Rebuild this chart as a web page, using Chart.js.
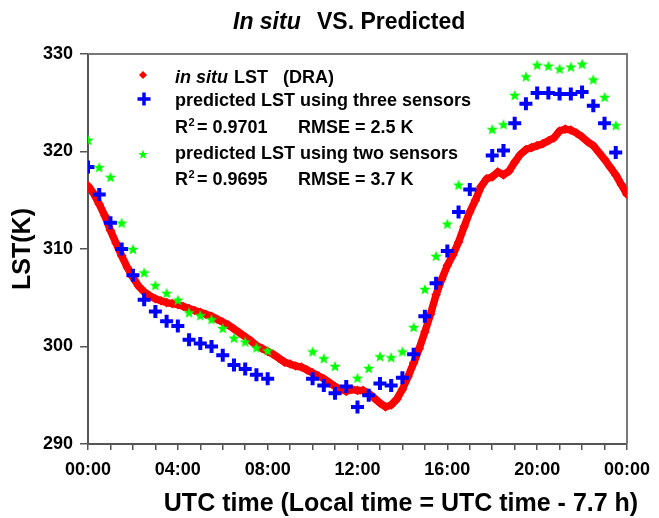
<!DOCTYPE html>
<html>
<head>
<meta charset="utf-8">
<script src="https://cdn.jsdelivr.net/npm/chart.js@4.4.0/dist/chart.umd.min.js"></script>
<style>
  html, body { margin: 0; padding: 0; background: #fff; }
  canvas { display: block; }
</style>
</head>
<body>
<canvas id="lstChart" width="659" height="518"></canvas>
<script>
// in situ LST at DRA, one reading every 15 min from 00:00 to 24:00 UTC
var insituStep = 0.25;
var insituLST = [
    316.5, 315.7, 314.6, 313.4, 311.9, 310.6, 309.3, 308.1,
    307.1, 306.2, 305.6, 305.2, 304.9, 304.7, 304.5, 304.4,
    304.3, 304.1, 303.9, 303.7, 303.5, 303.3, 303.1, 302.8,
    302.5, 302.2, 301.8, 301.4, 301.0, 300.6, 300.1, 299.8,
    299.5, 299.2, 298.8, 298.4, 298.2, 298.0, 297.9, 297.6,
    297.3, 297.0, 296.7, 296.3, 295.9, 295.6, 295.4, 295.6,
    295.5, 295.5, 295.2, 294.7, 294.2, 293.8, 294.0, 294.6,
    295.6, 296.9, 298.3, 299.8, 301.5, 303.3, 305.3, 306.9,
    308.3, 309.4, 310.7, 312.3, 313.8, 315.0, 316.4, 317.2,
    317.4, 317.9, 317.6, 318.0, 318.9, 319.7, 320.2, 320.4,
    320.6, 320.8, 321.1, 321.4, 322.1, 322.3, 322.2, 321.9,
    321.5, 321.0, 320.6, 319.9, 319.2, 318.4, 317.6, 316.6,
    315.6
];

// predicted LST every 30 min (null = no prediction)
var predHours = [
    0, 0.5, 1, 1.5, 2, 2.5, 3, 3.5,
    4, 4.5, 5, 5.5, 6, 6.5, 7, 7.5,
    8, 8.5, 9, 9.5, 10, 10.5, 11, 11.5,
    12, 12.5, 13, 13.5, 14, 14.5, 15, 15.5,
    16, 16.5, 17, 17.5, 18, 18.5, 19, 19.5,
    20, 20.5, 21, 21.5, 22, 22.5, 23, 23.5
];
var threeSensorLST = [
    318.4, 315.6, 312.7, 310.0, 307.3, 304.8, 303.6, 302.6,
    302.1, 300.7, 300.3, 300.0, 299.1, 298.1, 297.7, 297.1,
    296.7, null, null, null, 296.7, 296.0, 295.2, 295.9,
    293.8, 295.0, 296.2, 296.0, 296.8, 299.2, 303.1, 306.5,
    309.8, 313.8, 316.1, null, 319.6, 320.1, 322.9, 324.9,
    326.0, 326.0, 325.9, 325.9, 326.1, 324.7, 322.9, 319.9
];
var twoSensorLST = [
    321.2, 318.4, 317.4, 312.7, 310.0, 307.6, 306.3, 305.5,
    304.8, 303.5, 303.2, 302.8, 301.9, 300.9, 300.5, 299.9,
    299.6, null, null, null, 299.5, 298.8, 298.0, null,
    296.8, 297.8, 299.0, 298.9, 299.5, 302.0, 305.9, 309.3,
    312.6, 316.6, null, null, 322.3, 322.8, 325.8, 327.7,
    328.9, 328.8, 328.5, 328.7, 329.0, 327.4, 325.6, 322.7
];

var hourTicks = [0, 4, 8, 12, 16, 20, 24];
var hourLabels = ['00:00', '04:00', '08:00', '12:00', '16:00', '20:00', '00:00'];

var FONT = '"Liberation Sans", Arial, sans-serif';
var RED = '#ff0000', BLUE = '#0000ff', GREEN = '#00ff00';

Chart.defaults.font.family = FONT;
Chart.defaults.color = '#000';

// filled five point star used as the marker of the two-sensor series
function makeStar(size, color) {
    var c = document.createElement('canvas');
    c.width = size;
    c.height = size;
    var g = c.getContext('2d');
    g.fillStyle = color;
    g.beginPath();
    for (var i = 0; i < 10; i++) {
        var r = i % 2 ? size * 0.21 : size / 2;
        var a = -Math.PI / 2 + i * Math.PI / 5;
        g.lineTo(size / 2 + r * Math.cos(a), size / 2 + size * 0.06 + r * Math.sin(a));
    }
    g.closePath();
    g.fill();
    return c;
}
var starMark = makeStar(12, GREEN);
var starLegend = makeStar(10, GREEN);

function toPoints(xs, ys) {
    return ys.map(function (y, i) { return { x: xs[i], y: y }; });
}
var insituHours = insituLST.map(function (v, i) { return i * insituStep; });

// plot frame (top and right sides)
var framePlugin = {
    id: 'frame',
    beforeDatasetsDraw: function (chart) {
        var a = chart.chartArea, ctx = chart.ctx;
        ctx.save();
        ctx.strokeStyle = '#777';
        ctx.lineWidth = 2;
        ctx.beginPath();
        ctx.moveTo(a.left, a.top);
        ctx.lineTo(a.right, a.top);
        ctx.lineTo(a.right, a.bottom);
        ctx.stroke();
        ctx.restore();
    }
};

// title, x axis title and the legend, which mix italic and superscripts
var textPlugin = {
    id: 'texts',
    afterDraw: function (chart) {
        var ctx = chart.ctx;
        ctx.save();
        ctx.fillStyle = '#000';
        ctx.textBaseline = 'alphabetic';
        ctx.textAlign = 'left';

        ctx.font = 'italic bold 23px ' + FONT;
        ctx.fillText('In situ', 233, 29);
        ctx.font = 'bold 23px ' + FONT;
        ctx.fillText('VS. Predicted', 317, 29);

        ctx.textAlign = 'center';
        ctx.font = 'bold 25px ' + FONT;
        ctx.fillText('UTC time (Local time = UTC time - 7.7 h)', 401, 511);

        // legend
        ctx.textAlign = 'left';
        var tx = 175;
        ctx.font = 'italic bold 18px ' + FONT;
        ctx.fillText('in situ', tx, 83);
        ctx.font = 'bold 18px ' + FONT;
        ctx.fillText('LST', 234, 83);
        ctx.fillText('(DRA)', 283, 83);
        ctx.fillText('predicted LST using three sensors', tx, 105.5);
        ctx.fillText('predicted LST using two sensors', tx, 159);

        function stats(r2, rmse, y) {
            ctx.font = 'bold 18px ' + FONT;
            ctx.fillText('R', tx, y);
            var w = ctx.measureText('R').width;
            ctx.font = 'bold 11px ' + FONT;
            ctx.fillText('2', tx + w + 0.5, y - 7);
            ctx.font = 'bold 18px ' + FONT;
            ctx.fillText('= ' + r2, tx + w + 9, y);
            ctx.fillText('RMSE = ' + rmse, 298, y);
        }
        stats('0.9701', '2.5 K', 133);
        stats('0.9695', '3.7 K', 185);

        // legend markers
        ctx.fillStyle = RED;
        ctx.beginPath();
        ctx.moveTo(143, 71);
        ctx.lineTo(147, 75);
        ctx.lineTo(143, 79);
        ctx.lineTo(139, 75);
        ctx.closePath();
        ctx.fill();

        ctx.strokeStyle = BLUE;
        ctx.lineWidth = 3.5;
        ctx.beginPath();
        ctx.moveTo(137.5, 99);
        ctx.lineTo(150.5, 99);
        ctx.moveTo(144, 92.5);
        ctx.lineTo(144, 105.5);
        ctx.stroke();

        ctx.drawImage(starLegend, 143 - 5, 154 - 5);
        ctx.restore();
    }
};

var ctx = document.getElementById('lstChart').getContext('2d');
var lstChart = new Chart(ctx, {
    type: 'scatter',
    data: {
        datasets: [{
            label: 'in situ LST (DRA)',
            data: toPoints(insituHours, insituLST),
            showLine: true,
            borderColor: RED,
            borderWidth: 7.5,
            backgroundColor: RED,
            pointStyle: 'rectRot',
            pointRadius: 4.8,
            pointBorderWidth: 0,
            pointBackgroundColor: RED,
            order: 3
        }, {
            label: 'predicted LST using three sensors',
            data: toPoints(predHours, threeSensorLST),
            pointStyle: 'cross',
            pointRadius: 6.5,
            borderColor: BLUE,
            borderWidth: 4,
            pointBorderColor: BLUE,
            pointBorderWidth: 4,
            order: 2
        }, {
            label: 'predicted LST using two sensors',
            data: toPoints(predHours, twoSensorLST),
            pointStyle: starMark,
            pointRadius: 6,
            order: 1
        }]
    },
    options: {
        responsive: false,
        animation: false,
        events: [],
        layout: { padding: { top: 54, right: 29, left: 0, bottom: 0 } },
        plugins: {
            legend: { display: false },
            title: { display: false },
            tooltip: { enabled: false }
        },
        scales: {
            x: {
                type: 'linear',
                min: 0,
                max: 24,
                afterFit: function (scale) { scale.height = 74; },
                border: { display: true, color: '#555', width: 2 },
                grid: { drawOnChartArea: false, drawTicks: true, tickLength: 6, color: '#555', lineWidth: 1.5 },
                ticks: {
                    stepSize: 1,
                    autoSkip: false,
                    maxRotation: 0,
                    padding: 9,
                    font: { size: 18, weight: 'bold' },
                    callback: function (value) {
                        var i = hourTicks.indexOf(value);
                        return i >= 0 ? hourLabels[i] : '';
                    }
                }
            },
            y: {
                min: 290,
                max: 330,
                afterFit: function (scale) { scale.width = 88; },
                border: { display: true, color: '#555', width: 2 },
                grid: { drawOnChartArea: false, drawTicks: true, tickLength: 8, color: '#555', lineWidth: 1.5 },
                ticks: {
                    stepSize: 10,
                    padding: 7,
                    font: { size: 18, weight: 'bold' }
                },
                title: {
                    display: true,
                    text: 'LST(K)',
                    padding: { top: 8, bottom: 0 },
                    font: { size: 25, weight: 'bold' }
                }
            }
        }
    },
    plugins: [framePlugin, textPlugin]
});
</script>
</body>
</html>
